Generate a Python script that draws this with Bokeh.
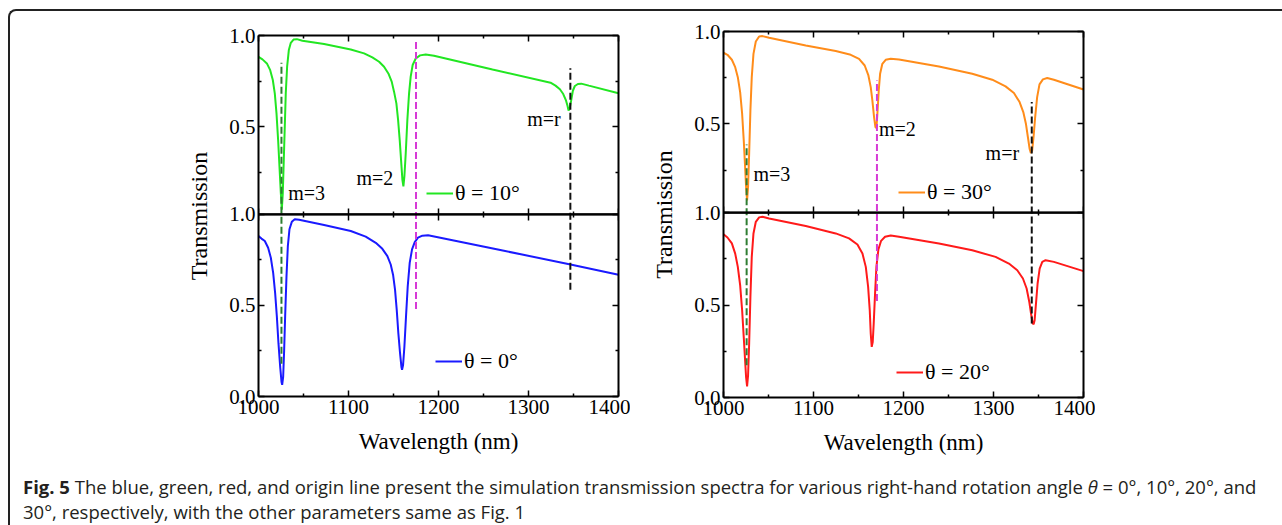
import numpy as np
from bokeh.plotting import figure
from bokeh.models import (Range1d, LinearAxis, FixedTicker, CustomJSTickFormatter,
                          CustomLabelingPolicy, Span, Label, Legend, LegendItem, Div)
from bokeh.layouts import row, column
from bokeh.embed import file_html
from bokeh.resources import INLINE

# ---------------- data ----------------
# theta = 0 deg (blue, lower left)
wl_0 = [1000, 1003.3, 1007, 1010.7, 1013.7, 1016.3, 1018.5, 1020.4, 1022.2, 1024.1, 1025.6,
        1026.3, 1027.4, 1028.5, 1029.6, 1031.1, 1032.6, 1034.4, 1037, 1040.3, 1045.1,
        1072.9, 1102.5, 1119.1, 1130.3, 1137.6, 1143.2, 1146.9, 1149.5, 1151.7, 1153.6,
        1155.4, 1157.3, 1158.8, 1159.5, 1160.6, 1162.1, 1163.9, 1165.8, 1168, 1170.6,
        1173.6, 1177.2, 1182.1, 1188.4, 1270, 1346.7, 1400]
T_0 = [0.88, 0.866, 0.853, 0.816, 0.761, 0.678, 0.567, 0.438, 0.291, 0.162, 0.079,
       0.064, 0.107, 0.254, 0.438, 0.659, 0.825, 0.917, 0.958, 0.972, 0.969,
       0.941, 0.908, 0.877, 0.843, 0.81, 0.77, 0.724, 0.668, 0.586, 0.475,
       0.346, 0.236, 0.162, 0.147, 0.171, 0.273, 0.438, 0.604, 0.733, 0.807,
       0.847, 0.871, 0.882, 0.884, 0.802, 0.724, 0.668]

# theta = 10 deg (green, upper left)
wl_10 = [1000, 1004.4, 1009.3, 1013, 1015.9, 1018.1, 1020, 1021.8, 1023.3, 1024.8, 1025.9,
         1027, 1028.1, 1029.2, 1030.3, 1031.8, 1033.7, 1035.9, 1038.9, 1042.6, 1048.8,
         1072.9, 1102.5, 1117.3, 1126.5, 1134, 1139.5, 1144.3, 1148, 1150.6, 1153.2,
         1155.1, 1156.9, 1158.4, 1159.9, 1161, 1162.1, 1163.6, 1165.4, 1167.3, 1169.1,
         1171.3, 1174.7, 1179.5, 1185.8, 1195, 1260, 1324.5, 1330, 1334.9, 1338.6, 1341.5,
         1343.4, 1344.5, 1346, 1347.5, 1349.3, 1351.5, 1354.9, 1358.6, 1367.1, 1400]
T_10 = [0.883, 0.869, 0.847, 0.81, 0.756, 0.683, 0.573, 0.427, 0.282, 0.136, 0.045,
        0.136, 0.318, 0.50, 0.683, 0.829, 0.92, 0.96, 0.978, 0.98, 0.971,
        0.953, 0.923, 0.902, 0.88, 0.856, 0.829, 0.792, 0.747, 0.692, 0.628,
        0.537, 0.427, 0.317, 0.208, 0.172, 0.227, 0.354, 0.537, 0.683, 0.774,
        0.838, 0.874, 0.891, 0.896, 0.889, 0.813, 0.741, 0.725, 0.705, 0.679, 0.646,
        0.613, 0.588, 0.606, 0.646, 0.697, 0.723, 0.734, 0.736, 0.725, 0.683]

# theta = 20 deg (red, lower right)
wl_20 = [1000, 1004.4, 1009.3, 1013, 1015.9, 1018.5, 1020.7, 1022.5, 1024, 1025.1, 1026.2,
         1027.3, 1028.5, 1029.9, 1031.4, 1033.3, 1035.9, 1039.6, 1043.3, 1050.7,
         1091.4, 1124.7, 1139.5, 1148.8, 1154.4, 1158.1, 1160.7, 1162.5, 1163.6, 1164.7,
         1165.8, 1166.9, 1168.4, 1169.9, 1172.1, 1175.1, 1179.5, 1185.8, 1195,
         1239.4, 1276.4, 1302.3, 1317.1, 1326.4, 1332.7, 1336.8, 1339.8, 1342, 1343.5,
         1344.6, 1345.7, 1347.2, 1349, 1351.3, 1354.2, 1357.9, 1367.1, 1400]
T_20 = [0.884, 0.866, 0.834, 0.779, 0.707, 0.608, 0.472, 0.327, 0.201, 0.11, 0.06,
        0.119, 0.291, 0.544, 0.761, 0.888, 0.951, 0.975, 0.978, 0.969,
        0.928, 0.888, 0.861, 0.828, 0.779, 0.707, 0.599, 0.472, 0.345, 0.274,
        0.30, 0.40, 0.562, 0.707, 0.801, 0.848, 0.870, 0.877, 0.870,
        0.834, 0.797, 0.761, 0.725, 0.689, 0.644, 0.590, 0.517, 0.445, 0.403,
        0.396, 0.418, 0.508, 0.617, 0.698, 0.734, 0.743, 0.734, 0.684]

# theta = 30 deg (orange, upper right)
wl_30 = [1000, 1004.4, 1009.3, 1013, 1015.9, 1018.5, 1020.7, 1022.5, 1024, 1025.1, 1026.2,
         1027.3, 1028.5, 1029.9, 1031.4, 1033.3, 1035.9, 1039.6, 1043.3, 1050.7,
         1091.4, 1124.7, 1141.4, 1150.6, 1156.9, 1161, 1163.6, 1165.4, 1167.3, 1168.8,
         1169.9, 1171, 1172.5, 1174, 1176.5, 1180.2, 1185.8, 1195,
         1239.4, 1276.4, 1298.6, 1313.4, 1322.7, 1329, 1333.1, 1336, 1338.2, 1340.1, 1341.5,
         1343, 1344.5, 1346.3, 1348.5, 1351.1, 1354.9, 1359.7, 1367.1, 1400]
T_30 = [0.885, 0.874, 0.847, 0.807, 0.753, 0.672, 0.555, 0.411, 0.267, 0.159, 0.086,
        0.159, 0.339, 0.573, 0.753, 0.879, 0.946, 0.973, 0.975, 0.966,
        0.924, 0.894, 0.874, 0.852, 0.816, 0.762, 0.699, 0.627, 0.537, 0.483,
        0.478, 0.555, 0.681, 0.771, 0.825, 0.847, 0.852, 0.849,
        0.811, 0.771, 0.739, 0.703, 0.667, 0.618, 0.564, 0.501, 0.429, 0.366, 0.342,
        0.357, 0.429, 0.537, 0.645, 0.714, 0.741, 0.748, 0.739, 0.686]

# dashed mode markers: wavelength, extent in lower panel (from), extent in upper panel (to)
modes = ["m=3", "m=2", "m=r"]
mode_colors = ["#2e7d32", "#d63ad6", "#111111"]
mode_wl_L = [1025.5, 1175, 1346.5]
mode_low_L = [0.18, 0.48, 0.586]
mode_high_L = [0.85, 0.965, 0.82]
mode_wl_R = [1025.7, 1170.5, 1342.5]
mode_low_R = [0.174, 0.522, 0.40]
mode_high_R = [0.389, 0.735, 0.618]

x_major = [1000, 1100, 1200, 1300, 1400]
x_minor = [1050, 1150, 1250, 1350]

SERIF = "Liberation Serif"

HIDE_CODE = """
try { for (const i of Array.from(indices)) { indices.unset(i) } } catch (e) {}
return indices
"""


def style_axis(ax, labels=True, tin=6, tout=0, mtin=3, mtout=0):
    ax.axis_line_width = 2
    ax.axis_line_color = "black"
    ax.major_tick_in = tin
    ax.major_tick_out = tout
    ax.minor_tick_in = mtin
    ax.minor_tick_out = mtout
    ax.major_tick_line_width = 1.5
    ax.minor_tick_line_width = 1.5
    ax.major_tick_line_color = "black"
    ax.minor_tick_line_color = "black"
    ax.major_label_text_font = SERIF
    ax.major_label_text_color = "black"
    ax.axis_label_text_font = SERIF
    ax.axis_label_text_font_style = "normal"
    ax.axis_label_text_color = "black"
    if labels:
        ax.major_label_standoff = 3
        ax.major_label_text_font_size = "21px"
    else:
        ax.major_label_standoff = 0
        ax.axis_label_standoff = 0
        ax.major_label_text_font_size = "0px"
        ax.major_label_policy = CustomLabelingPolicy(code=HIDE_CODE)


def make_panel(top_wl, top_T, top_col, top_lab, bot_wl, bot_T, bot_col, bot_lab,
               off, frame_h, mb_left, mb_top, mode_wl, mode_low, mode_high,
               lab_pos, leg_top, leg_bot, shift_up=0):
    xt = FixedTicker(ticks=x_major, minor_ticks=x_minor)
    yt = FixedTicker(ticks=[0, 0.5, 1.0, 0.5 + off, 1.0 + off],
                     minor_ticks=[0.25, 0.75, 0.25 + off, 0.75 + off])
    p = figure(output_backend="svg", toolbar_location=None, title_location=None,
               frame_width=360, frame_height=frame_h,
               min_border_left=mb_left, min_border_right=12,
               min_border_top=mb_top, min_border_bottom=460 - mb_top - frame_h,
               x_range=Range1d(1000, 1400), y_range=Range1d(0, 1.0 + off),
               x_axis_type=None, y_axis_type=None)
    p.outline_line_color = None
    p.background_fill_color = "white"
    p.border_fill_color = None
    if shift_up:
        p.styles = {"margin-top": f"-{shift_up}px"}

    fmt = CustomJSTickFormatter(args=dict(off=off),
                                code="return (tick > 1.001 ? tick - off : tick).toFixed(1);")
    yl = LinearAxis(ticker=yt, formatter=fmt, axis_label="Transmission")
    style_axis(yl)
    yl.axis_label_text_font_size = "24px"
    yl.axis_label_standoff = 14
    p.add_layout(yl, "left")
    yr = LinearAxis(ticker=yt)
    style_axis(yr, labels=False)
    p.add_layout(yr, "right")

    xb = LinearAxis(ticker=xt, axis_label="Wavelength (nm)")
    style_axis(xb)
    xb.axis_label_text_font_size = "23px"
    xb.axis_label_standoff = 12
    p.add_layout(xb, "below")
    xa = LinearAxis(ticker=xt)
    style_axis(xa, labels=False)
    p.add_layout(xa, "above")
    xm = LinearAxis(ticker=xt, fixed_location=1.0)
    style_axis(xm, labels=False, tin=6, tout=6, mtin=3, mtout=3)
    p.add_layout(xm, "above")

    p.add_layout(Span(location=1.0, dimension="width", line_color="black", line_width=2))

    r_top = p.line(top_wl, np.array(top_T) + off, line_color=top_col, line_width=2)
    r_bot = p.line(bot_wl, bot_T, line_color=bot_col, line_width=2)

    p.segment(x0=mode_wl, x1=mode_wl, y0=mode_low, y1=list(np.array(mode_high) + off),
              line_color=mode_colors, line_width=2, line_dash="7 3")

    for txt, (lx, ly) in zip(modes, lab_pos):
        p.add_layout(Label(x=lx, y=ly + off, text=txt, text_font=SERIF,
                           text_font_size="20px", text_baseline="middle",
                           text_color="black"))

    for item, loc in ((LegendItem(label=top_lab, renderers=[r_top]), leg_top),
                      (LegendItem(label=bot_lab, renderers=[r_bot]), leg_bot)):
        lg = Legend(items=[item], location=loc, padding=0, margin=0,
                    glyph_width=27, label_standoff=2,
                    border_line_alpha=0, background_fill_alpha=0,
                    label_text_font=SERIF, label_text_font_size="22px",
                    label_text_color="black")
        p.add_layout(lg)
    return p


pL = make_panel(wl_10, T_10, "#22e622", "θ = 10°", wl_0, T_0, "#1a1aff", "θ = 0°",
                off=0.98, frame_h=361, mb_left=248, mb_top=25,
                mode_wl=mode_wl_L, mode_low=mode_low_L, mode_high=mode_high_L,
                lab_pos=[(1033, 0.135), (1108.8, 0.22), (1298.6, 0.542)],
                leg_top=(168, 190), leg_bot=(177, 22), shift_up=1)
pR = make_panel(wl_30, T_30, "#ff8c1a", "θ = 30°", wl_20, T_20, "#ff1a1a", "θ = 20°",
                off=0.981, frame_h=366, mb_left=93, mb_top=25,
                mode_wl=mode_wl_R, mode_low=mode_low_R, mode_high=mode_high_R,
                lab_pos=[(1033.3, 0.227), (1172.7, 0.47), (1291.2, 0.34)],
                leg_top=(175, 192), leg_bot=(173, 12), shift_up=5)

caption_html = ('<b>Fig. 5</b> The blue, green, red, and origin line present the simulation '
                'transmission spectra for various right-hand rotation angle <i>θ</i> = 0°, 10°, '
                '20°, and<br>30°, respectively, with the other parameters same as Fig. 1')
cap = Div(text=caption_html, width=1262,
          styles={"font-family": "'Open Sans', sans-serif",
                  "font-size": "18.5px", "line-height": "25px", "padding-left": "8px",
                  "padding-top": "0px", "margin-top": "4px",
                  "color": "#231f20", "white-space": "nowrap"})

layout = column(row(pL, pR, styles={"align-items": "flex-start"}), cap,
                styles={"margin": "9px 0 0 8px",
                        "border-top": "2px solid #222", "border-left": "2px solid #222",
                        "border-top-left-radius": "8px"})

open("out.html", "w").write(file_html(layout, INLINE))
